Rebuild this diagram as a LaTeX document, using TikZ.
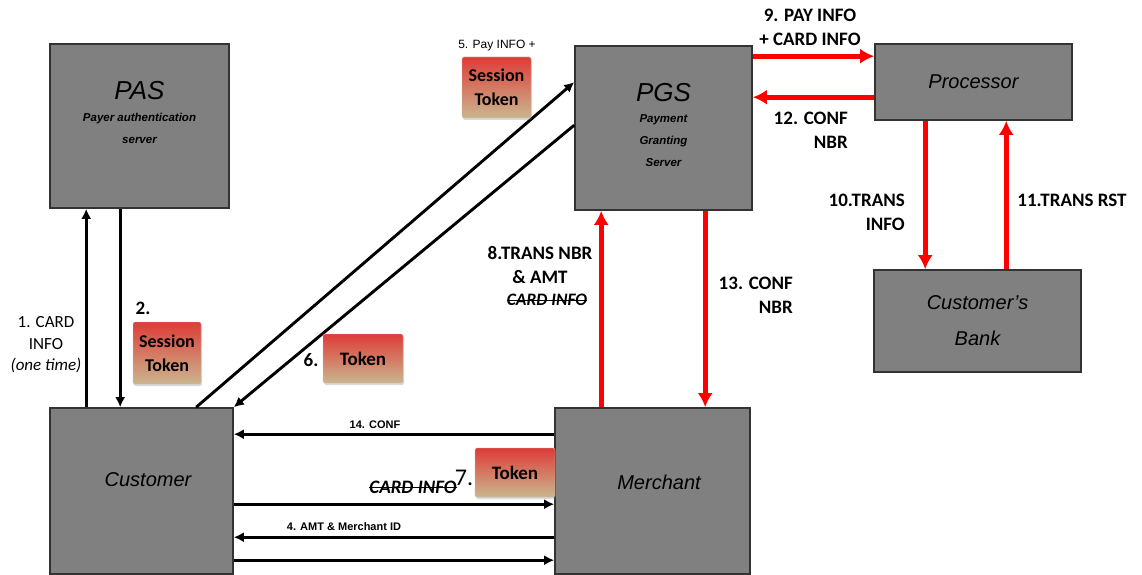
\documentclass[tikz,border=0pt]{standalone}
\usepackage{fontspec}
\setmainfont{Carlito}
\newfontfamily\arialf{Liberation Sans}
\usetikzlibrary{arrows.meta,calc,shadows}
\definecolor{boxgray}{RGB}{128,128,128}
\definecolor{tokred}{RGB}{222,60,56}
\definecolor{toktan}{RGB}{202,182,142}
\definecolor{arrred}{RGB}{255,0,0}

\begin{document}
\begin{tikzpicture}[x=1pt, y=-1pt,
  box/.style={draw=black!80, line width=1.6pt, fill=boxgray, inner sep=0pt,
    font=\arialf\itshape\fontsize{20}{36}\selectfont, align=center},
  title/.style={font=\arialf\itshape\fontsize{26}{30}\selectfont, inner sep=0pt},
  sub/.style={font=\arialf\bfseries\itshape\fontsize{11.5}{22}\selectfont, align=center, inner sep=0pt},
  tok/.style={draw=black!25, line width=0.4pt, rounded corners=1.5pt, top color=tokred,
    bottom color=toktan, drop shadow={opacity=0.3, shadow xshift=1pt, shadow yshift=-2pt},
    font=\bfseries\fontsize{18}{24}\selectfont, align=center, inner sep=0pt},
  lbl/.style={font=\bfseries\fontsize{19}{24}\selectfont, align=center, inner sep=0pt},
  sml/.style={font=\arialf\bfseries\fontsize{11}{13}\selectfont, inner sep=0pt},
  strk/.style={font=\bfseries\itshape\fontsize{17.5}{18}\selectfont, inner sep=0pt},
  blk/.style={line width=2.9pt, -{Latex[length=10pt,width=10pt]}},
  rd/.style={arrred, line width=5pt, -{Latex[length=14pt,width=15pt]}}]
  \useasboundingbox (0,0) rectangle (1142,575);

  % boxes
  \node[box, minimum width=179pt, minimum height=164pt] (pas) at (139.5,126) {};
  \node[title] (pastit) at (139.5,91) {PAS};
  \node[sub] (passub) at (139.5,128) {Payer authentication\\server};
  \node[box, minimum width=177pt, minimum height=164pt] (pgs) at (663.5,128) {};
  \node[title] (pgstit) at (663.5,93) {PGS};
  \node[sub] (pgssub) at (663.5,141) {Payment\\Granting\\Server};
  \node[box, minimum width=197pt, minimum height=76pt] (proc) at (973.5,82) {Processor};
  \node[box, minimum width=207pt, minimum height=102pt] (bank) at (977.5,321) {Customer’s\\Bank};
  \node[box, minimum width=183pt, minimum height=166pt] (cust) at (141.5,491) {};
  \node[box, draw=none, fill=none] (custtxt) at (148,480) {Customer};
  \node[box, minimum width=195pt, minimum height=166pt] (merch) at (652.5,491) {};
  \node[box, draw=none, fill=none] (merchtxt) at (659,482) {Merchant};

  % customer <-> PAS
  \coordinate (a1) at ($(cust.north west)+(37,0)$);
  \coordinate (a2) at ($(pas.south west)+(71,0)$);
  \draw[blk] (a1) -- (a1 |- pas.south);
  \draw[blk] (a2) -- (a2 |- cust.north);
  \node[lbl, font=\fontsize{17}{21.5}\selectfont] (l1) at (46,345) {1. CARD\\INFO\\\textit{(one time)}};
  \node[lbl] (l2) at (143,308) {2.};
  \node[tok, minimum width=68pt, minimum height=62pt] (sess2) at (167,353) {Session\\Token};

  % customer <-> PGS
  \draw[blk] ($(cust.north west)+(147,0)$) -- ($(pgs.north west)+(0,37)$);
  \draw[blk] ($(pgs.north west)+(0,80)$) -- (cust.north east);
  \node[font=\arialf\fontsize{12}{14}\selectfont, inner sep=0pt] (l5) at (497,46) {5. Pay INFO +};
  \node[tok, minimum width=69pt, minimum height=61pt] (sess5) at (496.5,87.5) {Session\\Token};
  \node[lbl] (l6) at (311,360) {6.};
  \node[tok, minimum width=80pt, minimum height=49pt, font=\bfseries\fontsize{19}{24}\selectfont] (tok6) at (363,358.5) {Token};

  % customer <-> merchant
  \draw[blk] ($(merch.north west)+(0,27)$) -- ($(cust.north east)+(0,27)$);
  \draw[blk] ($(cust.north east)+(0,97)$) -- ($(merch.north west)+(0,97)$);
  \draw[blk] ($(merch.north west)+(0,130)$) -- ($(cust.north east)+(0,130)$);
  \draw[blk] ($(cust.north east)+(0,153)$) -- ($(merch.north west)+(0,153)$);
  \node[sml] (l14) at (375,425) {14. CONF};
  \node[sml] (l4) at (344,527) {4. AMT \& Merchant ID};
  \node[strk, font=\bfseries\itshape\fontsize{19}{20}\selectfont] (c7) at (413,487) {CARD INFO};
  \draw[line width=0.9pt] (c7.west) -- (c7.east);
  \node[lbl, font=\fontsize{24}{28}\selectfont] (l7) at (464,478) {7.};
  \node[tok, minimum width=80pt, minimum height=49pt, font=\bfseries\fontsize{19}{24}\selectfont] (tok7) at (515,472.5) {Token};

  % merchant <-> PGS
  \coordinate (a8) at ($(merch.north west)+(47,0)$);
  \coordinate (a13) at ($(pgs.south west)+(131,0)$);
  \draw[rd] (a8) -- (a8 |- pgs.south);
  \draw[rd] (a13) -- (a13 |- merch.north);
  \node[lbl] (l8) at (540,265) {8.TRANS NBR\\\& AMT};
  \node[strk] (c8) at (547,300) {CARD INFO};
  \draw[line width=0.9pt] (c8.west) -- (c8.east);
  \node[lbl, align=right, anchor=east] (l13) at (793,295) {13. CONF\\NBR};

  % PGS <-> processor
  \coordinate (a9) at ($(pgs.north east)+(0,11)$);
  \coordinate (a12) at ($(proc.north west)+(0,54)$);
  \draw[rd] (a9) -- (a9 -| proc.west);
  \draw[rd] (a12) -- (a12 -| pgs.east);
  \node[lbl] (l9) at (810,27) {9. PAY INFO\\+ CARD INFO};
  \node[lbl, align=right, anchor=east] (l12) at (848,130) {12. CONF\\NBR};

  % processor <-> bank
  \coordinate (a10) at ($(proc.south west)+(51,0)$);
  \coordinate (a11) at ($(bank.north west)+(133,0)$);
  \draw[rd] (a10) -- (a10 |- bank.north);
  \draw[rd] (a11) -- (a11 |- proc.south);
  \node[lbl, align=right, anchor=east] (l10) at (905,212) {10.TRANS\\INFO};
  \node[lbl] (l11) at (1072,200) {11.TRANS RST};
\end{tikzpicture}
\end{document}
